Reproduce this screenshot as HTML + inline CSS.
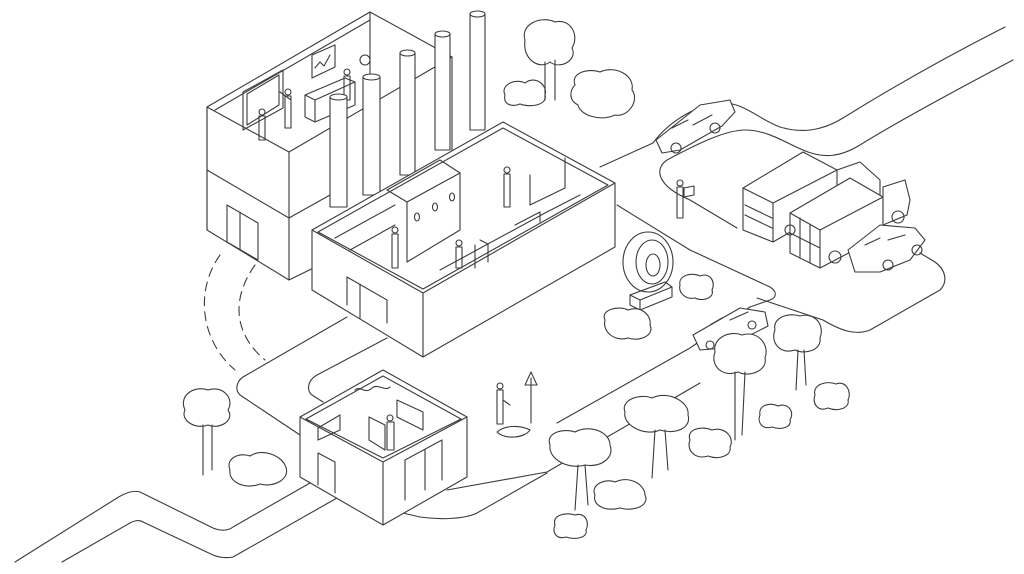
<!DOCTYPE html>
<html><head><meta charset="utf-8"><style>
html,body{margin:0;padding:0;background:#fff;width:1024px;height:574px;overflow:hidden}
svg{display:block}
</style></head><body>
<svg width="1024" height="574" viewBox="0 0 1024 574" xmlns="http://www.w3.org/2000/svg" fill="none" stroke="#3a3a3a" stroke-width="1.1" stroke-linecap="round" stroke-linejoin="round">
<!-- upper right road -->
<path d="M1005,27 C930,65 880,95 843,118 C820,132 800,133 780,127 C760,120 745,103 723,103 C700,103 670,120 653,143 L600,167"/>
<path d="M1013,60 C960,88 900,120 860,145 C840,157 825,158 808,152 C790,146 770,130 745,130 C725,130 695,145 667,160 C655,168 655,185 690,200 L737,228"/>
<!-- lot -->
<path d="M617,205 L690,250 L770,287 C778,292 776,298 770,300 L750,307"/>
<path d="M750,307 L690,348 L557,423"/>
<path d="M757,298 L823,320 C840,330 855,336 870,330 L940,290 C948,282 946,270 935,262 L920,253"/>
<!-- lower roads -->
<path d="M700,383 L547,472 L447,490"/>
<path d="M547,473 L477,513 C465,519 440,520 420,517 L403,513"/>
<path d="M15,562 L117,498 C125,493 133,490 140,492 L213,528 C220,531 228,531 233,527 L310,483"/>
<path d="M62,562 L130,523 C135,520 140,520 143,522 L213,555 C220,558 228,558 233,557 L337,498"/>
<path d="M347,317 L243,377 C236,382 235,390 240,395 L300,435"/>
<path d="M387,338 L317,375 C308,380 306,390 312,395 L323,402"/>
<!-- dashed arcs -->
<path d="M220,255 C195,290 200,340 235,370" stroke-dasharray="9,6"/>
<path d="M255,265 C230,300 235,335 265,360" stroke-dasharray="9,6"/>
<!-- left building -->
<g fill="#fff">
<path d="M207,107 L370,12 L452,57 L452,200 L289,280 L207,230 Z"/>
</g>
<path d="M207,107 L289,152 L452,57 M289,152 L289,280 M207,170 L289,218 L330,195 M370,12 L370,90 M215,110 L370,20 M207,107 L207,230"/>
<path d="M227,205 L258,223 L258,260 L227,242 Z M240,212 L240,250"/>
<path d="M243,92 L283,70 L283,108 L243,130 Z M247,94 L279,75 L279,105 L247,125 Z"/>
<path d="M312,55 L335,45 L335,67 L312,78 Z M315,68 L320,62 L324,66 L330,55"/>
<path d="M305,95 L345,78 L355,82 L355,105 L315,122 L305,117 Z M305,95 L315,100 L355,82 M315,100 L315,122"/>
<!-- people upper -->
<g>
<circle cx="262" cy="112" r="3"/><path d="M259,116 L259,140 L265,140 L265,116 Z"/>
<circle cx="288" cy="92" r="3"/><path d="M285,96 L285,128 L291,128 L291,96 Z M291,100 L280,92"/>
<circle cx="347" cy="72" r="3"/><path d="M344,76 L344,100 L350,100 L350,76 Z"/>
<circle cx="365" cy="60" r="5"/>
</g>
<!-- stacks -->
<g fill="#fff">
<path d="M330,97 L330,207 L347,207 L347,97"/><ellipse cx="338.5" cy="97" rx="8.5" ry="3"/>
<path d="M363,77 L363,195 L380,195 L380,77"/><ellipse cx="371.5" cy="77" rx="8.5" ry="3"/>
<path d="M400,53 L400,175 L415,175 L415,53"/><ellipse cx="407.5" cy="53" rx="7.5" ry="3"/>
<path d="M435,34 L435,150 L450,150 L450,34"/><ellipse cx="442.5" cy="34" rx="7.5" ry="3"/>
<path d="M470,14 L470,130 L485,130 L485,14"/><ellipse cx="477.5" cy="14" rx="7.5" ry="3"/>
</g>
<!-- lab building -->
<path fill="#fff" d="M312,230 L503,122 L615,183 L615,247 L423,357 L312,290 Z"/>
<path d="M312,230 L423,293 L615,183 M423,293 L423,357 M318,232 L503,128 L608,185 L423,289 L318,232"/>
<path d="M347,277 L387,300 L387,323 M360,284 L360,318 M347,277 L347,305"/>
<path fill="#fff" d="M407,202 L460,173 L460,230 L407,262 Z"/>
<path d="M387,190 L440,160 L460,173 M387,190 L407,202"/>
<ellipse cx="417" cy="217" rx="2.5" ry="4"/><ellipse cx="435" cy="207" rx="2.5" ry="4"/><ellipse cx="452" cy="197" rx="2.5" ry="4"/>
<path d="M440,270 L545,213 L580,195 M475,245 L475,268 M480,240 L488,244 L488,262 M515,225 L540,212 L540,222 M530,175 L530,205 L565,188 L565,158"/>
<path d="M335,238 L395,205 M350,250 L395,225"/>
<circle cx="395" cy="230" r="3"/><path d="M392,234 L392,268 L398,268 L398,234 Z"/>
<circle cx="459" cy="243" r="3"/><path d="M456,247 L456,268 L462,268 L462,247 Z"/>
<circle cx="507" cy="170" r="3"/><path d="M504,174 L504,207 L510,207 L510,174 Z"/>
<!-- small building -->
<path fill="#fff" d="M300,417 L383,370 L467,417 L467,477 L383,525 L300,477 Z"/>
<path d="M300,417 L383,462 L467,417 M383,462 L383,525 M306,419 L383,376 L461,419 L383,458 Z"/>
<path d="M318,453 L335,462 L335,493 M318,453 L318,485"/>
<path d="M405,460 L442,440 L442,480 M405,460 L405,500 M425,450 L425,490"/>
<path d="M318,428 L340,415 L340,430 L318,440 Z M397,400 L423,412 L423,430 L397,417 Z"/>
<path d="M369,417 L369,440 L385,450 L385,425 Z"/>
<circle cx="390" cy="418" r="3"/><path d="M387,422 L387,450 L394,450 L394,422 Z"/>
<path d="M355,390 C360,385 365,395 372,388 C378,383 385,392 390,387"/>
<!-- person with sign -->
<circle cx="500" cy="386" r="3"/><path d="M497,390 L497,424 L503,424 L503,390 Z M503,400 L510,405"/>
<path d="M531,378 L531,423 M525,385 L531,372 L537,385 Z"/>
<path d="M497,432 C505,425 520,425 530,430 C525,438 505,440 497,432"/>
<!-- ring sculpture -->
<ellipse cx="648" cy="262" rx="25" ry="30"/><ellipse cx="652" cy="262" rx="16" ry="22"/><ellipse cx="653" cy="265" rx="7" ry="11"/>
<path d="M630,295 L665,282 L672,287 L672,297 L640,310 L630,305 Z M630,295 L640,300 L672,287 M640,300 L640,310"/>
<!-- trucks -->
<path fill="#fff" d="M743,188 L803,152 L837,170 L837,205 L773,242 L743,230 Z"/>
<path d="M743,188 L773,203 L837,170 M773,203 L773,242 M745,205 L772,218 M745,215 L772,228"/>
<path d="M837,170 L860,162 L880,180 L880,200 L837,210"/>
<path fill="#fff" d="M790,213 L850,178 L883,197 L883,235 L820,268 L790,253 Z"/>
<path d="M790,213 L820,230 L883,197 M820,230 L820,268 M800,218 L800,258 M810,224 L810,263 M790,233 L820,248"/>
<path fill="#fff" d="M883,187 L905,180 L910,200 L907,215 L883,225 Z"/>
<circle cx="835" cy="257" r="6"/><circle cx="898" cy="217" r="6"/><circle cx="790" cy="230" r="5"/>
<!-- cars -->
<g fill="#fff">
<path d="M656,140 L700,105 L730,100 L735,112 L722,126 L680,150 L662,153 Z"/>
<path d="M693,335 L740,308 L765,312 L768,326 L725,348 L700,350 Z"/>
<path d="M848,250 L880,225 L915,228 L925,240 L910,260 L880,272 L855,272 Z"/>
</g>
<path d="M672,128 L688,120 M693,125 L712,115 M710,325 L722,318 M730,320 L748,312 M865,245 L880,238 M888,240 L905,235"/>
<circle cx="676" cy="148" r="5"/><circle cx="715" cy="128" r="5"/><circle cx="710" cy="345" r="4"/><circle cx="752" cy="325" r="4"/>
<circle cx="888" cy="265" r="5"/><circle cx="917" cy="250" r="5"/>
<!-- person with box -->
<circle cx="680" cy="183" r="3"/><path d="M677,187 L677,218 L683,218 L683,187 Z M684,188 L694,186 L694,195 L684,197 Z"/>
<!-- trees -->
<g fill="#fff">
<path d="M525,40 C520,25 540,15 555,22 C570,18 580,35 572,48 C578,60 560,70 550,62 C540,70 522,60 525,40 Z"/>
<path d="M505,95 C500,85 515,78 525,83 C535,75 548,85 545,95 C548,105 530,108 520,104 C510,108 503,103 505,95 Z"/>
<path d="M575,85 C570,72 590,68 600,72 C615,65 635,75 632,90 C640,100 628,118 615,115 C600,122 580,115 578,105 C568,100 570,90 575,85 Z"/>
<path d="M185,410 C178,395 195,385 208,390 C222,385 235,398 228,410 C235,420 220,430 208,425 C195,430 180,420 185,410 Z"/>
<path d="M230,470 C225,458 240,452 250,456 C262,448 280,455 285,465 C292,478 275,488 260,484 C245,490 228,482 230,470 Z"/>
<path d="M550,445 C545,432 565,428 575,432 C590,424 610,432 610,445 C615,458 600,468 585,465 C570,470 548,460 550,445 Z"/>
<path d="M595,495 C590,485 605,478 615,482 C630,475 645,485 645,495 C650,505 635,512 620,508 C605,512 592,505 595,495 Z"/>
<path d="M625,412 C620,400 640,393 652,398 C668,390 690,402 688,415 C692,428 675,435 660,430 C645,437 622,425 625,412 Z"/>
<path d="M715,352 C712,338 730,330 742,335 C758,330 770,345 765,358 C768,370 750,378 738,372 C722,378 710,365 715,352 Z"/>
<path d="M775,330 C772,318 788,312 800,316 C815,312 825,325 820,338 C822,350 805,355 795,350 C780,355 770,342 775,330 Z"/>
<path d="M605,320 C600,310 618,305 628,310 C640,305 652,315 650,325 C655,335 640,342 628,338 C615,342 602,332 605,320 Z"/>
<path d="M680,285 C678,275 692,272 700,276 C710,272 716,282 712,290 C715,298 702,302 695,298 C685,300 678,292 680,285 Z"/>
<path d="M690,440 C686,430 700,425 712,430 C725,426 735,438 730,447 C732,456 718,460 708,456 C695,460 686,450 690,440 Z"/>
<path d="M815,395 C812,385 826,380 836,384 C846,380 852,392 848,400 C850,408 838,412 828,408 C818,412 812,404 815,395 Z"/>
<path d="M555,525 C552,515 565,512 575,515 C585,512 590,522 586,530 C588,538 575,540 566,537 C556,540 552,532 555,525 Z"/>
<path d="M760,415 C758,405 770,402 778,406 C788,402 795,412 790,420 C792,428 780,430 772,427 C762,430 757,422 760,415 Z"/>
</g>
<path d="M545,62 L545,100 M555,60 L555,100 M203,425 L203,475 M212,425 L212,470 M578,465 L575,510 M585,465 L588,505 M655,430 L652,478 M665,430 L668,470 M735,372 L735,440 M745,372 L742,435 M798,350 L796,390 M804,350 L806,385"/>
</svg>
</body></html>
